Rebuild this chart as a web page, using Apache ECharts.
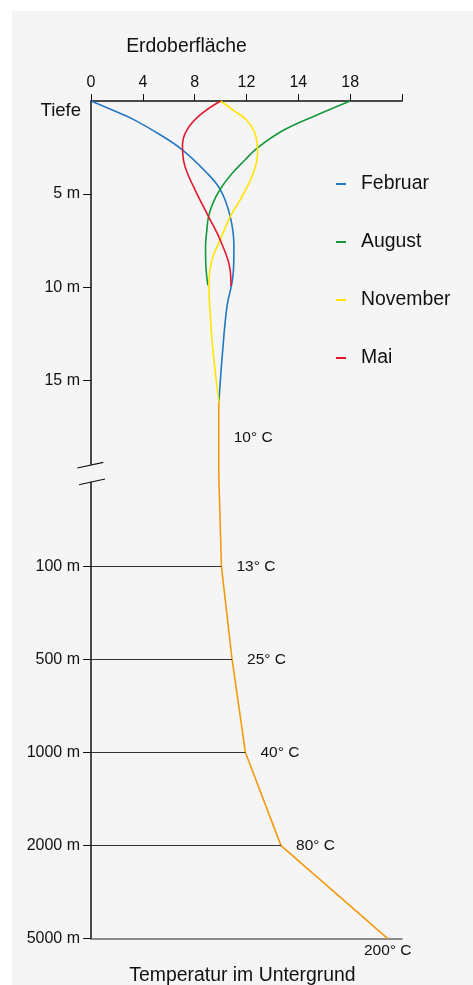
<!DOCTYPE html>
<html>
<head>
<meta charset="utf-8">
<script src="https://cdn.jsdelivr.net/npm/echarts@6/dist/echarts.min.js"></script>
<style>
  html, body { margin: 0; padding: 0; background: #ffffff; }
  #panel { position: absolute; left: 12px; top: 11px; width: 461px; height: 974px; background: #f5f5f5; }
  #chart { position: absolute; left: 0; top: 0; width: 473px; height: 985px; }
</style>
</head>
<body>
<div id="panel"></div>
<div id="chart"></div>
<script>
// ---- top temperature axis (labels as printed, equally spaced) ----
const xTickLabels = ['0', '4', '8', '12', '14', '18', ''];
const xTickTemps  = [0, 4, 8, 12, 14, 18, 22];

// ---- depth axis ----
const yTickLabels = ['', '5 m', '10 m', '15 m', '', '100 m', '500 m', '1000 m', '2000 m', '5000 m'];
const yTickDepths = [0, 5, 10, 15, 20, 100, 500, 1000, 2000, 5000];

// ---- seasonal curves (depth m, temperature °C) ----
const febDepth = [0, 0.5, 1.0, 1.8, 2.6, 3.8, 4.75, 6.2, 7.8, 9.0, 9.8, 11.0, 13.5, 16.15];
const febTemp  = [0, 1.7, 3.3, 5.3, 7.0, 8.85, 9.97, 10.74, 11.03, 11.0, 10.87, 10.5, 10.15, 9.87];

const augDepth = [0, 0.75, 1.56, 2.54, 3.17, 4.0, 4.74, 5.5, 6.21, 7.0, 7.82, 8.8, 9.9];
const augTemp  = [18, 15.44, 13.44, 12.4, 11.88, 10.75, 9.97, 9.4, 9.07, 8.93, 8.84, 8.86, 9.02];

const novDepth = [0, 0.5, 1.02, 1.8, 2.8, 4.06, 5.32, 6.21, 7.47, 8.54, 9.79, 11.5, 13.73, 16.15];
const novTemp  = [10, 11.0, 12.0, 12.34, 12.43, 12.21, 11.5, 10.74, 9.97, 9.33, 9.1, 9.2, 9.46, 9.87];

const maiDepth = [0, 0.75, 1.56, 2.36, 3.35, 4.6, 6.21, 7.47, 9.08, 9.94];
const maiTemp  = [10, 8.42, 7.4, 7.06, 7.19, 7.91, 9.07, 9.97, 10.74, 10.8];

// ---- deep ground temperature ----
const constTemp = 10;        // °C below the seasonal zone
const constFrom = 16.15;     // m
const constTo = 20;          // m (axis break)
const deepDepths = [100, 500, 1000, 2000, 5000];
const deepTemps  = [13, 25, 40, 80, 200];
const deepLabels = ['13° C', '25° C', '40° C', '80° C', '200° C'];
const constLabel = '10° C';

// deep temperature scale (second, linear x axis)
const deepMin = -133.6, deepMax = 216;

function interp(v, xs, ys) {
  for (let i = 0; i < xs.length - 1; i++) {
    if (v <= xs[i + 1] || i === xs.length - 2) {
      const t = (v - xs[i]) / (xs[i + 1] - xs[i]);
      return ys[i] + t * (ys[i + 1] - ys[i]);
    }
  }
}
const idx = yTickDepths.map((_, i) => i);
const tempToPos = t => interp(t, xTickTemps, xTickTemps.map((_, i) => i));
const depthToPos = d => interp(d, yTickDepths, idx);

const FONT = 'Liberation Sans, Arial, Helvetica, sans-serif';
const TXT = '#111111';

function curve(name, color, ds, ts) {
  return {
    name, type: 'line', xAxisIndex: 0, yAxisIndex: 0,
    data: ds.map((d, i) => [tempToPos(ts[i]), depthToPos(d)]),
    smooth: 0.4, showSymbol: false, symbol: 'none',
    lineStyle: { color, width: 1.6 }, itemStyle: { color }, z: 3
  };
}

const tickIdx = yTickLabels.map((l, i) => l ? i : -1).filter(i => i >= 0);

const orangeData = [[constTemp, depthToPos(constFrom)], [constTemp, depthToPos(constTo)]]
  .concat(deepDepths.map((d, i) => [deepTemps[i], depthToPos(d)]));

const levelLines = deepDepths.slice(0, -1).map((d, i) => [
  { coord: [deepMin, depthToPos(d)] },
  { coord: [deepTemps[i], depthToPos(d)] }
]);

const labelData = [{
  value: [constTemp, (depthToPos(constFrom) + depthToPos(constTo)) / 2],
  label: { formatter: constLabel }
}].concat(deepDepths.map((d, i) => ({
  value: [deepTemps[i], depthToPos(d)],
  label: i === deepDepths.length - 1
    ? { formatter: deepLabels[i], position: 'bottom', distance: 4 }
    : { formatter: deepLabels[i] }
})));

const chart = echarts.init(document.getElementById('chart'), null, { renderer: 'canvas' });

chart.setOption({
  backgroundColor: 'transparent',
  animation: false,
  textStyle: { fontFamily: FONT },
  grid: { left: 91, top: 101, width: 311, height: 837.7, containLabel: false },
  legend: {
    data: ['Februar', 'August', 'November', 'Mai'],
    orient: 'vertical', left: 331, top: 169,
    icon: 'rect', itemWidth: 10, itemHeight: 2, itemGap: 38,
    textStyle: { fontSize: 19.4, color: TXT, fontFamily: FONT, padding: [0, 0, 0, 10], lineHeight: 20 }
  },
  xAxis: [{
    type: 'value', position: 'top', min: 0, max: 6, interval: 1,
    axisLine: { show: true, onZero: false, lineStyle: { color: '#111', width: 1.5 } },
    axisTick: { show: true, length: 7, lineStyle: { color: '#111', width: 1 } },
    axisLabel: { formatter: v => xTickLabels[Math.round(v)], fontSize: 16, color: TXT, margin: 10, fontFamily: FONT },
    splitLine: { show: false }
  }, {
    type: 'value', position: 'bottom', min: deepMin, max: deepMax,
    axisLine: { show: true, onZero: false, lineStyle: { color: '#6a6a6a', width: 1.5 } },
    axisTick: { show: false }, axisLabel: { show: false }, splitLine: { show: false }
  }],
  yAxis: [{
    type: 'value', inverse: true, min: 0, max: 9, interval: 1,
    axisLine: { show: true, onZero: false, lineStyle: { color: '#111', width: 1.5 } },
    axisTick: { show: true, length: 8, customValues: tickIdx, lineStyle: { color: '#111', width: 1 } },
    axisLabel: { customValues: tickIdx, formatter: v => yTickLabels[Math.round(v)], fontSize: 16, color: TXT, margin: 11, fontFamily: FONT },
    splitLine: { show: false }
  }],
  series: [
    curve('Februar', '#2377c4', febDepth, febTemp),
    curve('August', '#15993c', augDepth, augTemp),
    curve('November', '#ffe500', novDepth, novTemp),
    curve('Mai', '#e3172d', maiDepth, maiTemp),
    {
      name: 'Untergrund', type: 'line', xAxisIndex: 1, yAxisIndex: 0,
      data: orangeData, showSymbol: false, symbol: 'none',
      lineStyle: { color: '#f39a10', width: 1.6 }, itemStyle: { color: '#f39a10' }, z: 4,
      markLine: {
        silent: true, symbol: 'none', animation: false,
        label: { show: false },
        lineStyle: { color: '#333', width: 1, type: 'solid' },
        emphasis: { disabled: true },
        data: levelLines
      }
    },
    {
      name: 'labels', type: 'scatter', xAxisIndex: 1, yAxisIndex: 0,
      symbolSize: 0, silent: true, z: 10,
      itemStyle: { opacity: 1 },
      label: { show: true, position: 'right', distance: 15, fontSize: 15.5, color: TXT, opacity: 1, textBorderWidth: 0, fontFamily: FONT },
      emphasis: { disabled: true },
      data: labelData
    }
  ]
});

// decorations: titles and axis break
const corner = chart.convertToPixel({ xAxisIndex: 0, yAxisIndex: 0 }, [0, 4]);
const ax = corner[0], yb = corner[1];
const bg = '#f5f5f5';
chart.setOption({
  graphic: [
    { type: 'text', x: 186.5, y: 47, style: { text: 'Erdoberfläche', fontSize: 19.4, fontFamily: FONT, fill: TXT, textAlign: 'center', textVerticalAlign: 'middle', verticalAlign: 'middle' } },
    { type: 'text', x: 81, y: 110.5, style: { text: 'Tiefe', fontSize: 18.5, fontFamily: FONT, fill: TXT, textAlign: 'right', textVerticalAlign: 'middle', verticalAlign: 'middle' } },
    { type: 'text', x: 242.5, y: 976, style: { text: 'Temperatur im Untergrund', fontSize: 19.4, fontFamily: FONT, fill: TXT, textAlign: 'center', textVerticalAlign: 'middle', verticalAlign: 'middle' } },
    { type: 'rect', z: 50, shape: { x: ax - 3, y: yb - 8.6, width: 6, height: 17 }, style: { fill: bg } },
    { type: 'line', z: 51, shape: { x1: ax - 13.7, y1: yb - 5.3, x2: ax + 12.3, y2: yb - 10.9 }, style: { stroke: '#111', lineWidth: 1.2 } },
    { type: 'line', z: 51, shape: { x1: ax - 12, y1: yb + 11.4, x2: ax + 14, y2: yb + 5.7 }, style: { stroke: '#111', lineWidth: 1.2 } }
  ]
});
</script>
</body>
</html>
